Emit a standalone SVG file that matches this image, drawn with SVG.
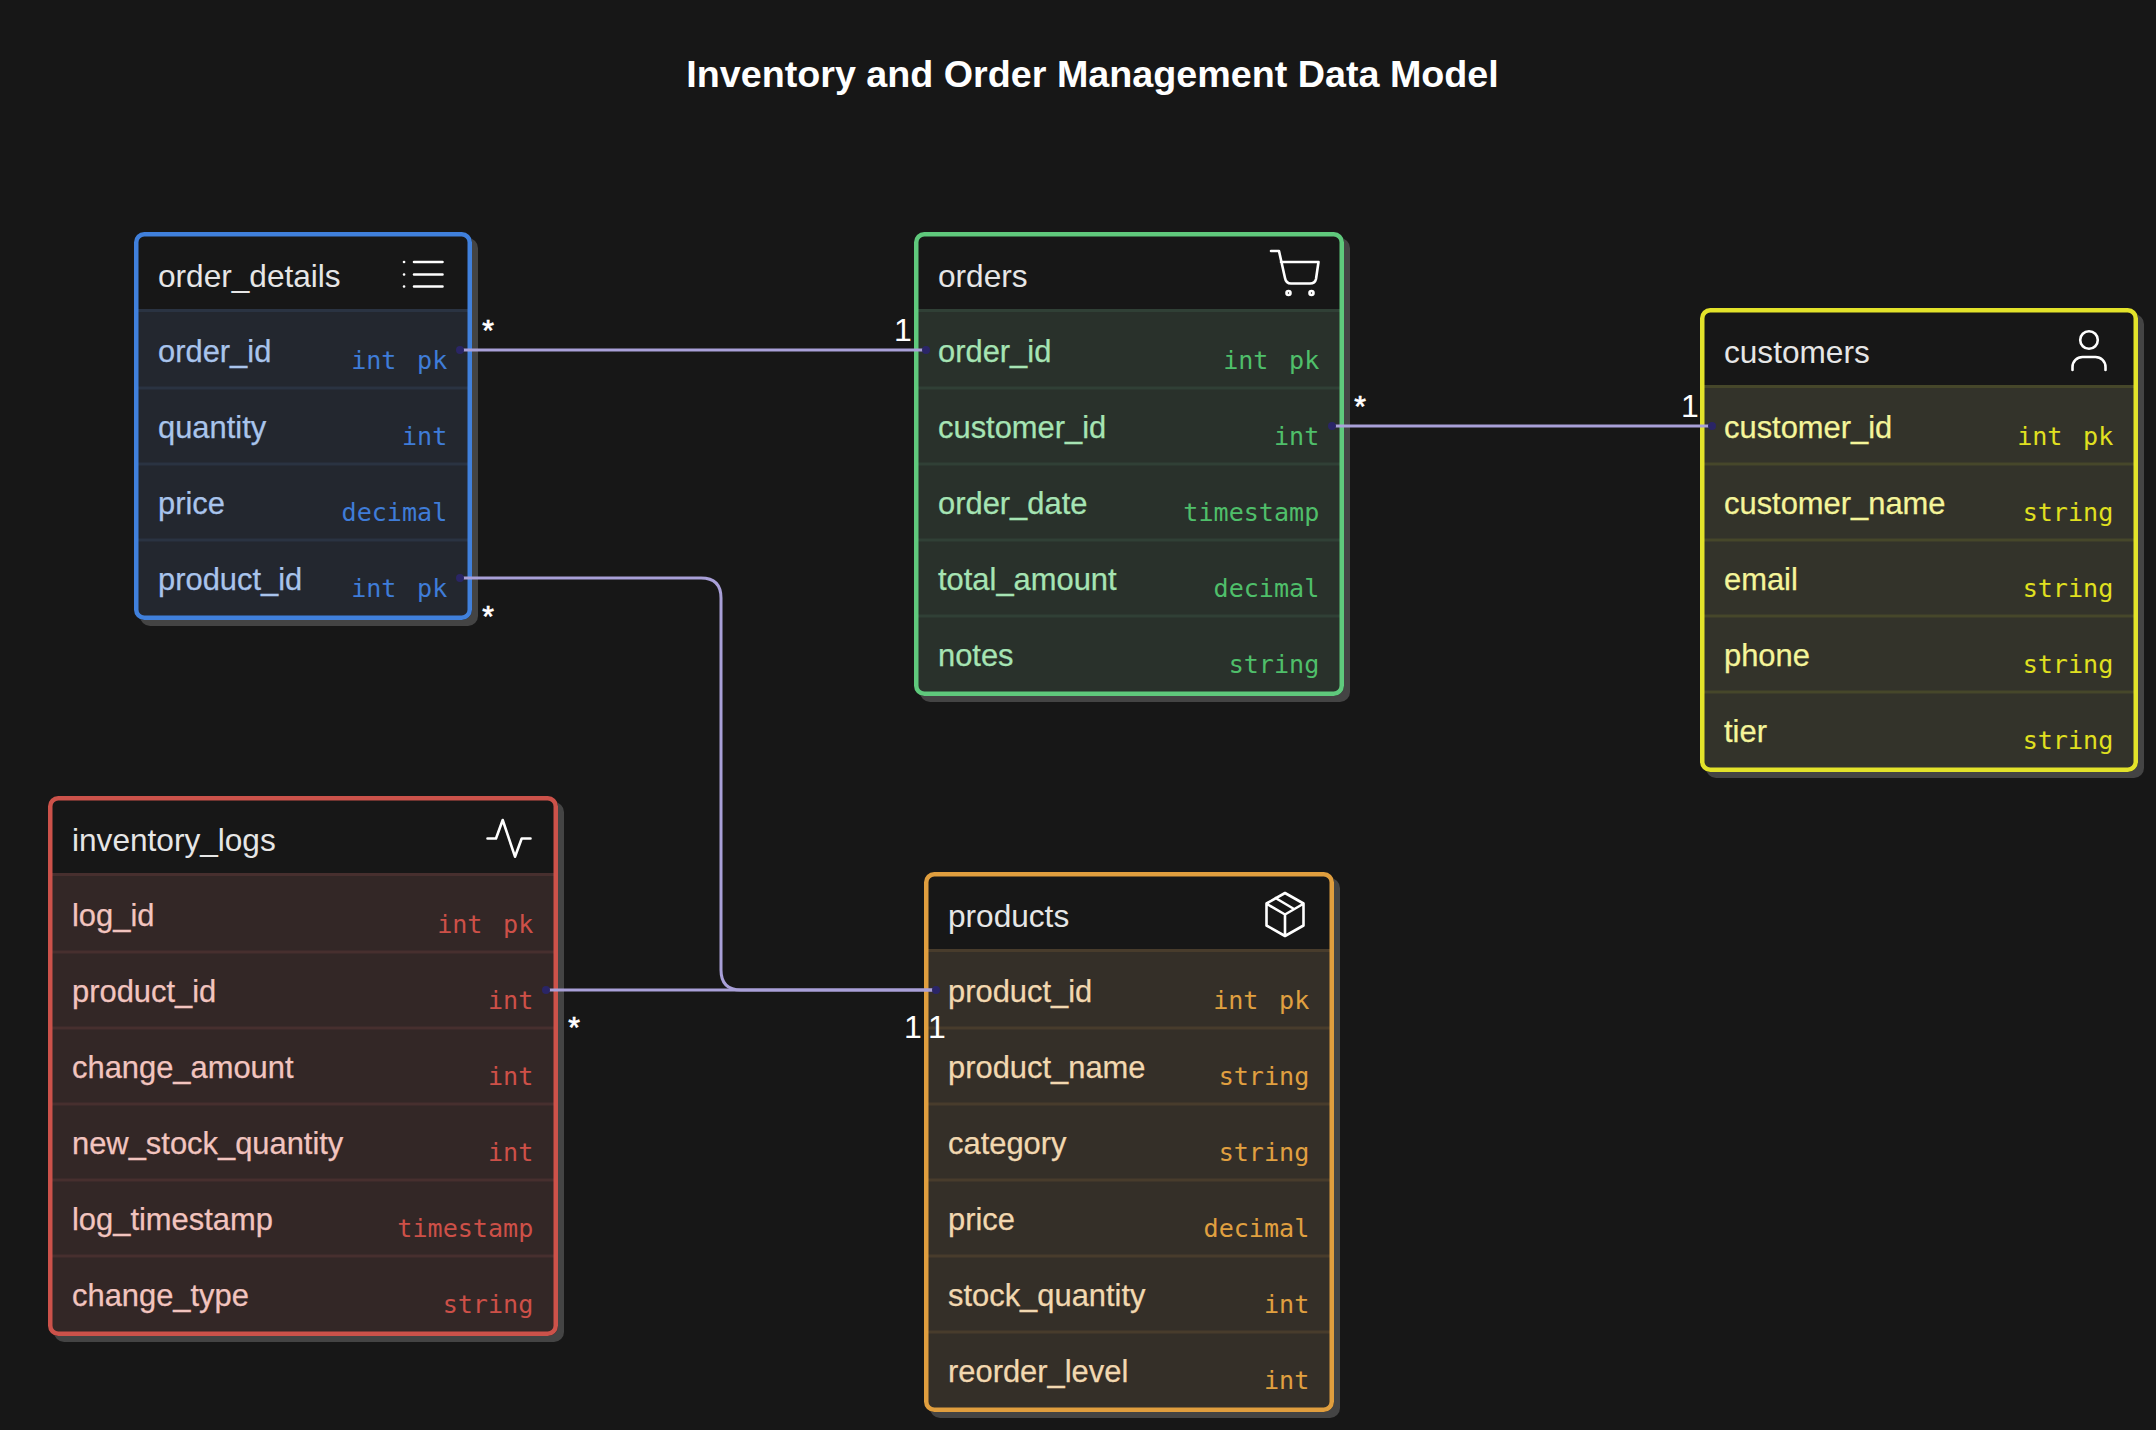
<svg xmlns="http://www.w3.org/2000/svg" width="2156" height="1430" viewBox="0 0 2156 1430">
<style>
text{font-family:"Liberation Sans",Arial,sans-serif}
.title{font-size:37.700px;font-weight:700;fill:#fff;text-anchor:middle}
.head{font-size:31.600px;fill:#e6e6e6}
.name{font-size:30.900px;stroke-width:.25px}
.type{font-family:"DejaVu Sans Mono","Liberation Mono",monospace;font-size:25.100px;text-anchor:end;word-spacing:5.500px;transform:translateX(-.7px)}
.shadow{fill:#444}
.top{fill:#171717}
.border{fill:none;stroke-width:4.5}
.icon{fill:none;stroke:#fff;stroke-width:2.6;stroke-linecap:round;stroke-linejoin:round}
.sep{stroke-width:3}
.link{fill:none;stroke:#a9a0d8;stroke-width:3}
.dot{fill:#2a2566}
.card{font-size:32px;fill:#fff;text-anchor:middle}
.star{font-size:30px;fill:#fff;stroke:#fff;stroke-width:.7px;text-anchor:middle}
.blue .row{fill:#23272f}.blue .sep{stroke:#2a3342}.blue .border{stroke:#4080dc}.blue .name{fill:#a9c4ec;stroke:#a9c4ec}.blue .type{fill:#3f7cd8}
.green .row{fill:#29312b}.green .sep{stroke:#304036}.green .border{stroke:#5fc97c}.green .name{fill:#a6e4b4;stroke:#a6e4b4}.green .type{fill:#4fbf6a}
.yellow .row{fill:#33332a}.yellow .sep{stroke:#46472a}.yellow .border{stroke:#e3e32a}.yellow .name{fill:#f5f59a;stroke:#f5f59a}.yellow .type{fill:#e0e020}
.red .row{fill:#332726}.red .sep{stroke:#472f2e}.red .border{stroke:#cc524a}.red .name{fill:#f2c4bf;stroke:#f2c4bf}.red .type{fill:#cd5048}
.orange .row{fill:#342f28}.orange .sep{stroke:#483c2c}.orange .border{stroke:#e09e3e}.orange .name{fill:#f2d8b0;stroke:#f2d8b0}.orange .type{fill:#e0a040}
</style>
<rect width="2156" height="1430" fill="#171717"/>
<text class="title" x="1092.500" y="87">Inventory and Order Management Data Model</text>

<g id="node-order_details" class="blue">
<rect class="shadow" x="140" y="238" width="338" height="388" rx="10"/>
<rect class="top" x="134" y="232" width="338" height="388" rx="10"/>
<path class="row" d="M136 310H470V608a10 10 0 0 1-10 10H146a10 10 0 0 1-10-10Z"/>
<path class="sep" d="M136 310.500H470M136 388H470M136 464H470M136 540H470"/>
<rect class="border" x="136.250" y="234.250" width="333.500" height="383.500" rx="8"/>
<text class="head" x="158" y="287">order_details</text>
<text class="name" x="158" y="362">order_id</text><text class="type" x="448" y="369">int pk</text>
<text class="name" x="158" y="438">quantity</text><text class="type" x="448" y="445">int</text>
<text class="name" x="158" y="514">price</text><text class="type" x="448" y="521">decimal</text>
<text class="name" x="158" y="590">product_id</text><text class="type" x="448" y="597">int pk</text>
<path class="icon" d="M414 262H442.500M414 274.500H442.500M414 286.500H442.500M404 262h.1M404 274.500h.1M404 286.500h.1"/>
</g>

<g id="node-orders" class="green">
<rect class="shadow" x="920" y="238" width="430" height="464" rx="10"/>
<rect class="top" x="914" y="232" width="430" height="464" rx="10"/>
<path class="row" d="M916 310H1342V684a10 10 0 0 1-10 10H926a10 10 0 0 1-10-10Z"/>
<path class="sep" d="M916 310.500H1342M916 388H1342M916 464H1342M916 540H1342M916 616H1342"/>
<rect class="border" x="916.250" y="234.250" width="425.500" height="459.500" rx="8"/>
<text class="head" x="938" y="287">orders</text>
<text class="name" x="938" y="362">order_id</text><text class="type" x="1320" y="369">int pk</text>
<text class="name" x="938" y="438">customer_id</text><text class="type" x="1320" y="445">int</text>
<text class="name" x="938" y="514">order_date</text><text class="type" x="1320" y="521">timestamp</text>
<text class="name" x="938" y="590">total_amount</text><text class="type" x="1320" y="597">decimal</text>
<text class="name" x="938" y="666">notes</text><text class="type" x="1320" y="673">string</text>
<path class="icon" d="M1271 251H1279L1285 278Q1286 283.500 1291 283.500H1310Q1315 283.500 1316 279L1318.500 262H1281"/>
<circle class="icon" cx="1288.500" cy="293" r="2"/><circle class="icon" cx="1311.500" cy="293" r="2"/>
</g>

<g id="node-customers" class="yellow">
<rect class="shadow" x="1706" y="314" width="438" height="464" rx="10"/>
<rect class="top" x="1700" y="308" width="438" height="464" rx="10"/>
<path class="row" d="M1702 386H2136V760a10 10 0 0 1-10 10H1712a10 10 0 0 1-10-10Z"/>
<path class="sep" d="M1702 386.500H2136M1702 464H2136M1702 540H2136M1702 616H2136M1702 692H2136"/>
<rect class="border" x="1702.250" y="310.250" width="433.500" height="459.500" rx="8"/>
<text class="head" x="1724" y="363">customers</text>
<text class="name" x="1724" y="438">customer_id</text><text class="type" x="2114" y="445">int pk</text>
<text class="name" x="1724" y="514">customer_name</text><text class="type" x="2114" y="521">string</text>
<text class="name" x="1724" y="590">email</text><text class="type" x="2114" y="597">string</text>
<text class="name" x="1724" y="666">phone</text><text class="type" x="2114" y="673">string</text>
<text class="name" x="1724" y="742">tier</text><text class="type" x="2114" y="749">string</text>
<circle class="icon" cx="2089" cy="340" r="8.800"/>
<path class="icon" d="M2072.500 370v-3a10 10 0 0 1 10-10h13a10 10 0 0 1 10 10v3"/>
</g>

<g id="node-inventory_logs" class="red">
<rect class="shadow" x="54" y="802" width="510" height="540" rx="10"/>
<rect class="top" x="48" y="796" width="510" height="540" rx="10"/>
<path class="row" d="M50 874H556V1324a10 10 0 0 1-10 10H60a10 10 0 0 1-10-10Z"/>
<path class="sep" d="M50 874.500H556M50 952H556M50 1028H556M50 1104H556M50 1180H556M50 1256H556"/>
<rect class="border" x="50.250" y="798.250" width="505.500" height="535.500" rx="8"/>
<text class="head" x="72" y="851">inventory_logs</text>
<text class="name" x="72" y="926">log_id</text><text class="type" x="534" y="933">int pk</text>
<text class="name" x="72" y="1002">product_id</text><text class="type" x="534" y="1009">int</text>
<text class="name" x="72" y="1078">change_amount</text><text class="type" x="534" y="1085">int</text>
<text class="name" x="72" y="1154">new_stock_quantity</text><text class="type" x="534" y="1161">int</text>
<text class="name" x="72" y="1230">log_timestamp</text><text class="type" x="534" y="1237">timestamp</text>
<text class="name" x="72" y="1306">change_type</text><text class="type" x="534" y="1313">string</text>
<path class="icon" d="M487.500 838.500H496L502.700 820L515 856.700L521.700 838.500H530.500"/>
</g>

<g id="node-products" class="orange">
<rect class="shadow" x="930" y="878" width="410" height="540" rx="10"/>
<rect class="top" x="924" y="872" width="410" height="540" rx="10"/>
<path class="row" d="M926 950H1332V1400a10 10 0 0 1-10 10H936a10 10 0 0 1-10-10Z"/>
<path class="sep" d="M926 950.500H1332M926 1028H1332M926 1104H1332M926 1180H1332M926 1256H1332M926 1332H1332"/>
<rect class="border" x="926.250" y="874.250" width="405.500" height="535.500" rx="8"/>
<text class="head" x="948" y="927">products</text>
<text class="name" x="948" y="1002">product_id</text><text class="type" x="1310" y="1009">int pk</text>
<text class="name" x="948" y="1078">product_name</text><text class="type" x="1310" y="1085">string</text>
<text class="name" x="948" y="1154">category</text><text class="type" x="1310" y="1161">string</text>
<text class="name" x="948" y="1230">price</text><text class="type" x="1310" y="1237">decimal</text>
<text class="name" x="948" y="1306">stock_quantity</text><text class="type" x="1310" y="1313">int</text>
<text class="name" x="948" y="1382">reorder_level</text><text class="type" x="1310" y="1389">int</text>
<path class="icon" d="M1285 893L1303.500 903.500V925.500L1285 936L1266.500 925.500V903.500ZM1267 904L1285 914.500L1303 904M1285 914.500V935.500M1275.500 898L1294 909"/>
</g>

<g id="connectors">
<path class="link" d="M460 350H926"/>
<path class="link" d="M1332 426H1712"/>
<path class="link" d="M460 578H701Q721 578 721 598V970Q721 990 741 990H936"/>
<path class="link" d="M546 990H936"/>
<circle class="dot" cx="460" cy="350" r="4"/><circle class="dot" cx="926" cy="350" r="4"/>
<circle class="dot" cx="1332" cy="426" r="4"/><circle class="dot" cx="1712" cy="426" r="4"/>
<circle class="dot" cx="460" cy="578" r="4"/><circle class="dot" cx="546" cy="990" r="4"/><circle class="dot" cx="936" cy="990" r="4"/>
<text class="star" x="488" y="340">*</text>
<text class="card" x="903" y="341">1</text>
<text class="star" x="1360" y="416">*</text>
<text class="card" x="1690" y="417">1</text>
<text class="star" x="488" y="626">*</text>
<text class="card" x="913" y="1038">1</text>
<text class="star" x="574" y="1037">*</text>
<text class="card" x="937" y="1038">1</text>
</g>
</svg>
